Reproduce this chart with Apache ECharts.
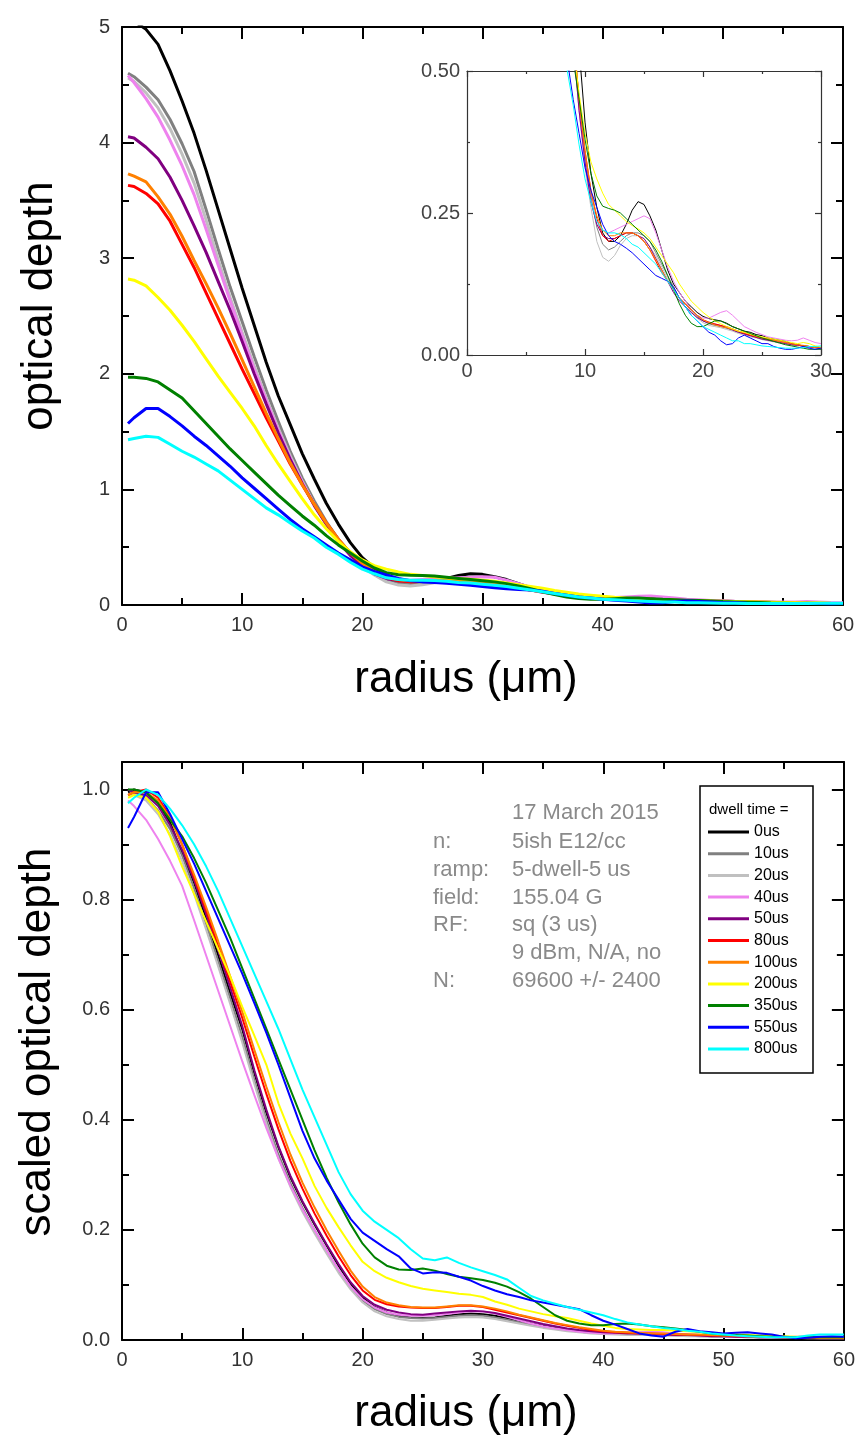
<!DOCTYPE html>
<html><head><meta charset="utf-8">
<script src="https://cdn.jsdelivr.net/npm/echarts@6/dist/echarts.min.js"></script>
<style>html,body{margin:0;padding:0;background:#fff}#c{width:858px;height:1454px}</style>
</head><body><div id="c"></div>
<script>
// ---------- data ----------
const radius = [0.5,1,2,3,4,5,6,7,8,9,10,11,12,13,14,15,16,17,18,19,20,21,22,23,24,25,26,27,28,29,30,31,32,33,34,35,36,37,38,39,40,41,42,43,44,45,46,47,48,49,50,51,52,53,54,55,56,57,58,59,60];
const seriesNames = ['0us','10us','20us','40us','50us','80us','100us','200us','350us','550us','800us'];
const seriesColors = ['#000000','#808080','#c0c0c0','#ee82ee','#800080','#ff0000','#ff8000','#ffff00','#008000','#0000ff','#00ffff'];

// optical depth (top panel)
const od_0us   = [5.06,5.05,4.98,4.85,4.62,4.36,4.08,3.76,3.42,3.08,2.74,2.42,2.1,1.81,1.56,1.31,1.09,0.88,0.7,0.54,0.41,0.32,0.26,0.215,0.2,0.2,0.21,0.23,0.255,0.27,0.265,0.245,0.22,0.185,0.15,0.125,0.11,0.095,0.085,0.075,0.068,0.064,0.062,0.06,0.056,0.05,0.046,0.042,0.04,0.036,0.034,0.03,0.028,0.026,0.024,0.02,0.018,0.016,0.015,0.014,0.012];
const od_10us  = [4.6,4.57,4.48,4.37,4.2,3.99,3.75,3.42,3.08,2.75,2.45,2.15,1.86,1.59,1.33,1.1,0.9,0.72,0.57,0.45,0.35,0.28,0.225,0.195,0.185,0.19,0.2,0.21,0.215,0.215,0.21,0.2,0.18,0.16,0.14,0.12,0.1,0.09,0.078,0.068,0.06,0.055,0.052,0.05,0.047,0.044,0.04,0.037,0.034,0.031,0.028,0.026,0.024,0.022,0.02,0.018,0.017,0.016,0.015,0.014,0.013];
const od_20us  = [4.56,4.53,4.43,4.3,4.12,3.9,3.65,3.33,2.99,2.66,2.36,2.07,1.79,1.53,1.29,1.07,0.87,0.7,0.55,0.43,0.33,0.26,0.2,0.172,0.165,0.175,0.193,0.205,0.21,0.21,0.2,0.19,0.175,0.155,0.135,0.115,0.1,0.085,0.075,0.065,0.057,0.052,0.05,0.048,0.045,0.042,0.038,0.035,0.032,0.03,0.027,0.025,0.023,0.021,0.019,0.018,0.017,0.016,0.015,0.013,0.012];
const od_40us  = [4.58,4.52,4.38,4.22,4.02,3.8,3.55,3.25,2.94,2.63,2.33,2.04,1.77,1.51,1.27,1.06,0.87,0.7,0.55,0.43,0.34,0.27,0.23,0.22,0.215,0.22,0.225,0.23,0.235,0.24,0.245,0.24,0.215,0.185,0.155,0.13,0.11,0.095,0.08,0.07,0.065,0.065,0.07,0.075,0.078,0.07,0.06,0.05,0.045,0.04,0.036,0.032,0.03,0.028,0.026,0.025,0.026,0.03,0.026,0.022,0.02];
const od_50us  = [4.05,4.04,3.96,3.86,3.7,3.5,3.28,3.05,2.8,2.55,2.28,2.0,1.74,1.49,1.26,1.05,0.86,0.7,0.55,0.43,0.34,0.27,0.23,0.21,0.205,0.205,0.21,0.215,0.215,0.21,0.205,0.19,0.17,0.15,0.13,0.11,0.095,0.085,0.075,0.066,0.06,0.056,0.054,0.052,0.048,0.044,0.04,0.037,0.034,0.031,0.028,0.026,0.024,0.022,0.02,0.018,0.017,0.016,0.014,0.013,0.012];
const od_80us  = [3.63,3.62,3.56,3.47,3.32,3.12,2.92,2.7,2.48,2.26,2.04,1.83,1.62,1.42,1.22,1.04,0.87,0.71,0.57,0.45,0.36,0.29,0.24,0.21,0.2,0.205,0.21,0.215,0.215,0.21,0.2,0.185,0.165,0.145,0.13,0.115,0.1,0.09,0.08,0.07,0.062,0.058,0.055,0.052,0.05,0.046,0.042,0.038,0.035,0.032,0.03,0.028,0.026,0.024,0.022,0.02,0.018,0.016,0.015,0.014,0.012];
const od_100us = [3.73,3.71,3.66,3.53,3.38,3.19,2.98,2.78,2.57,2.35,2.12,1.89,1.66,1.44,1.23,1.04,0.87,0.71,0.57,0.45,0.36,0.29,0.245,0.22,0.21,0.21,0.215,0.215,0.215,0.21,0.2,0.185,0.168,0.15,0.13,0.115,0.1,0.09,0.08,0.07,0.062,0.057,0.053,0.05,0.048,0.045,0.042,0.04,0.036,0.033,0.03,0.028,0.026,0.024,0.022,0.02,0.018,0.017,0.015,0.013,0.012];
const od_200us = [2.82,2.81,2.76,2.66,2.55,2.42,2.28,2.13,1.98,1.84,1.7,1.55,1.38,1.22,1.07,0.92,0.78,0.66,0.55,0.46,0.39,0.34,0.31,0.285,0.265,0.255,0.245,0.235,0.228,0.222,0.215,0.205,0.19,0.175,0.16,0.145,0.125,0.11,0.095,0.085,0.075,0.067,0.06,0.055,0.05,0.046,0.042,0.04,0.037,0.034,0.032,0.03,0.028,0.026,0.024,0.022,0.02,0.022,0.02,0.016,0.014];
const od_350us = [1.97,1.97,1.96,1.93,1.86,1.79,1.68,1.57,1.46,1.35,1.25,1.15,1.05,0.95,0.86,0.77,0.69,0.6,0.52,0.45,0.38,0.32,0.28,0.262,0.258,0.255,0.25,0.24,0.23,0.22,0.21,0.2,0.185,0.165,0.14,0.115,0.09,0.07,0.056,0.05,0.05,0.055,0.06,0.06,0.055,0.05,0.046,0.042,0.038,0.034,0.03,0.027,0.024,0.021,0.018,0.016,0.014,0.012,0.01,0.01,0.01];
const od_550us = [1.57,1.62,1.7,1.7,1.63,1.55,1.46,1.38,1.29,1.2,1.1,1.01,0.92,0.83,0.74,0.66,0.59,0.52,0.45,0.39,0.33,0.29,0.26,0.23,0.21,0.2,0.195,0.188,0.18,0.17,0.16,0.15,0.14,0.135,0.13,0.12,0.1,0.085,0.07,0.06,0.05,0.04,0.035,0.025,0.018,0.02,0.03,0.035,0.03,0.025,0.02,0.02,0.015,0.012,0.01,0.01,0.012,0.015,0.012,0.01,0.012];
const od_800us = [1.43,1.44,1.46,1.45,1.39,1.33,1.28,1.22,1.16,1.08,1.0,0.92,0.84,0.78,0.71,0.64,0.58,0.5,0.44,0.37,0.31,0.27,0.235,0.22,0.215,0.215,0.212,0.205,0.195,0.19,0.18,0.17,0.16,0.145,0.13,0.115,0.1,0.085,0.07,0.06,0.05,0.045,0.04,0.035,0.03,0.025,0.025,0.02,0.02,0.018,0.016,0.015,0.014,0.013,0.012,0.012,0.012,0.013,0.015,0.015,0.016];

// scaled optical depth (bottom panel)
const sc_0us   = [0.995,1.0,0.995,0.975,0.94,0.885,0.83,0.765,0.698,0.63,0.564,0.485,0.413,0.35,0.295,0.25,0.21,0.172,0.135,0.102,0.077,0.06,0.05,0.044,0.041,0.04,0.041,0.044,0.047,0.048,0.047,0.044,0.04,0.035,0.03,0.026,0.022,0.019,0.016,0.014,0.012,0.012,0.011,0.011,0.01,0.009,0.009,0.008,0.008,0.007,0.007,0.006,0.006,0.005,0.005,0.004,0.004,0.004,0.003,0.003,0.003];
const sc_10us  = [1.0,0.995,0.985,0.962,0.928,0.88,0.82,0.755,0.688,0.62,0.55,0.472,0.4,0.337,0.285,0.24,0.2,0.163,0.127,0.096,0.072,0.056,0.047,0.042,0.04,0.039,0.04,0.042,0.044,0.045,0.044,0.041,0.037,0.032,0.028,0.024,0.021,0.018,0.015,0.013,0.012,0.011,0.01,0.01,0.009,0.009,0.008,0.008,0.007,0.007,0.006,0.006,0.005,0.005,0.005,0.004,0.004,0.004,0.003,0.003,0.003];
const sc_20us  = [0.99,0.99,0.98,0.955,0.918,0.87,0.81,0.745,0.678,0.61,0.54,0.465,0.393,0.33,0.278,0.233,0.194,0.157,0.122,0.092,0.068,0.052,0.043,0.038,0.035,0.035,0.037,0.039,0.041,0.042,0.041,0.038,0.034,0.03,0.026,0.022,0.019,0.016,0.014,0.012,0.011,0.01,0.01,0.009,0.009,0.008,0.008,0.007,0.007,0.006,0.006,0.006,0.005,0.005,0.004,0.004,0.004,0.003,0.003,0.003,0.003];
const sc_40us  = [0.98,0.97,0.945,0.91,0.87,0.825,0.762,0.698,0.634,0.57,0.506,0.445,0.385,0.33,0.28,0.237,0.2,0.163,0.128,0.097,0.074,0.059,0.05,0.046,0.044,0.044,0.045,0.047,0.05,0.052,0.052,0.048,0.042,0.036,0.03,0.025,0.021,0.018,0.015,0.013,0.012,0.012,0.013,0.014,0.015,0.014,0.012,0.01,0.009,0.008,0.007,0.006,0.006,0.005,0.005,0.005,0.006,0.007,0.006,0.005,0.004];
const sc_50us  = [1.0,0.995,0.99,0.97,0.935,0.89,0.835,0.773,0.708,0.64,0.57,0.49,0.418,0.352,0.298,0.252,0.212,0.174,0.138,0.105,0.08,0.064,0.055,0.05,0.047,0.046,0.048,0.05,0.052,0.053,0.052,0.049,0.044,0.039,0.034,0.029,0.025,0.021,0.018,0.016,0.014,0.013,0.012,0.012,0.011,0.01,0.009,0.009,0.008,0.007,0.007,0.006,0.006,0.005,0.005,0.004,0.004,0.004,0.003,0.003,0.003];
const sc_80us  = [0.99,0.995,1.0,0.985,0.95,0.9,0.84,0.78,0.715,0.65,0.585,0.515,0.447,0.383,0.325,0.275,0.23,0.19,0.152,0.118,0.09,0.073,0.065,0.061,0.059,0.058,0.058,0.06,0.062,0.062,0.06,0.055,0.05,0.045,0.04,0.035,0.03,0.026,0.022,0.018,0.016,0.014,0.013,0.012,0.012,0.011,0.01,0.01,0.009,0.008,0.008,0.007,0.007,0.006,0.006,0.005,0.005,0.004,0.004,0.004,0.003];
const sc_100us = [0.99,0.995,0.995,0.98,0.948,0.9,0.845,0.786,0.724,0.66,0.596,0.527,0.46,0.396,0.337,0.286,0.241,0.2,0.162,0.126,0.097,0.078,0.068,0.063,0.06,0.059,0.059,0.061,0.063,0.063,0.061,0.057,0.052,0.046,0.041,0.036,0.031,0.027,0.023,0.02,0.017,0.015,0.014,0.013,0.012,0.012,0.011,0.01,0.01,0.009,0.008,0.008,0.007,0.006,0.006,0.005,0.005,0.005,0.004,0.004,0.004];
const sc_200us = [0.985,0.99,0.985,0.96,0.915,0.86,0.81,0.76,0.71,0.66,0.605,0.553,0.5,0.43,0.375,0.33,0.28,0.24,0.205,0.172,0.142,0.125,0.113,0.105,0.098,0.093,0.09,0.087,0.084,0.082,0.078,0.07,0.064,0.057,0.052,0.047,0.043,0.04,0.035,0.03,0.026,0.022,0.02,0.019,0.018,0.018,0.017,0.016,0.014,0.012,0.011,0.01,0.009,0.008,0.008,0.007,0.006,0.006,0.005,0.005,0.005];
const sc_350us = [1.0,1.0,0.995,0.975,0.945,0.915,0.875,0.83,0.78,0.73,0.675,0.62,0.565,0.51,0.455,0.4,0.345,0.295,0.25,0.21,0.175,0.15,0.135,0.128,0.127,0.13,0.126,0.12,0.115,0.112,0.109,0.104,0.097,0.087,0.075,0.06,0.045,0.035,0.03,0.027,0.027,0.029,0.03,0.028,0.025,0.023,0.021,0.018,0.015,0.012,0.01,0.009,0.008,0.007,0.006,0.006,0.005,0.005,0.005,0.005,0.005];
const sc_550us = [0.93,0.95,0.995,0.995,0.955,0.91,0.865,0.815,0.765,0.715,0.665,0.612,0.558,0.5,0.44,0.38,0.33,0.29,0.255,0.22,0.195,0.18,0.165,0.152,0.13,0.121,0.123,0.122,0.115,0.108,0.098,0.09,0.083,0.078,0.072,0.068,0.064,0.06,0.056,0.045,0.035,0.028,0.02,0.012,0.008,0.006,0.015,0.02,0.016,0.014,0.012,0.013,0.014,0.012,0.01,0.006,0.003,0.004,0.006,0.007,0.006];
const sc_800us = [0.975,0.985,1.0,0.99,0.965,0.935,0.9,0.86,0.815,0.765,0.715,0.665,0.615,0.565,0.51,0.455,0.405,0.355,0.305,0.265,0.235,0.215,0.2,0.185,0.165,0.148,0.145,0.15,0.14,0.132,0.125,0.118,0.11,0.095,0.08,0.072,0.066,0.06,0.055,0.05,0.045,0.038,0.032,0.028,0.025,0.022,0.02,0.017,0.015,0.012,0.01,0.008,0.007,0.006,0.005,0.005,0.005,0.008,0.01,0.01,0.01];

const odSeries = [od_0us,od_10us,od_20us,od_40us,od_50us,od_80us,od_100us,od_200us,od_350us,od_550us,od_800us];
const scSeries = [sc_0us,sc_10us,sc_20us,sc_40us,sc_50us,sc_80us,sc_100us,sc_200us,sc_350us,sc_550us,sc_800us];

const annotationLabels = ['n:','ramp:','field:','RF:','','N:'];
const annotationValues = ['5ish E12/cc','5-dwell-5 us','155.04 G','sq (3 us)','9 dBm, N/A, no','69600 +/- 2400'];
const annotationDate = '17 March 2015';

// ---------- chart ----------
const FONT = "'Liberation Sans', Arial, sans-serif";
const chart = echarts.init(document.getElementById('c'), null, {renderer: 'canvas'});

function pairs(ys) { return radius.map((x, i) => [x, ys[i]]); }

function axisStyle(main, showLabels, labelOpts) {
  const w = main ? 2 : 1.2;
  const col = main ? '#000' : '#333';
  return {
    axisLine: {show: true, onZero: false, lineStyle: {color: col, width: w}},
    axisTick: {show: true, inside: true, length: main ? 12 : 6, lineStyle: {color: col, width: w}},
    minorTick: {show: true, splitNumber: 2, length: main ? 7 : 3, lineStyle: {color: col, width: w}},
    splitLine: {show: false},
    minorSplitLine: {show: false},
    axisLabel: Object.assign({show: showLabels, color: main ? '#333' : '#444', fontSize: 20, fontFamily: FONT}, labelOpts || {})
  };
}

const grids = [
  {left: 122, top: 27, width: 721, height: 578},
  {left: 467, top: 71, width: 354, height: 284},
  {left: 122, top: 762, width: 722, height: 578}
];

const xAxes = [
  Object.assign({type: 'value', gridIndex: 0, position: 'bottom', min: 0, max: 60, interval: 10}, axisStyle(true, true, {margin: 10})),
  Object.assign({type: 'value', gridIndex: 0, position: 'top', min: 0, max: 60, interval: 10}, axisStyle(true, false)),
  Object.assign({type: 'value', gridIndex: 1, position: 'bottom', min: 0, max: 60, interval: 20}, axisStyle(false, true, {margin: 6, formatter: v => String(v / 2)})),
  Object.assign({type: 'value', gridIndex: 1, position: 'top', min: 0, max: 60, interval: 20}, axisStyle(false, false)),
  Object.assign({type: 'value', gridIndex: 2, position: 'bottom', min: 0, max: 60, interval: 10}, axisStyle(true, true, {margin: 10})),
  Object.assign({type: 'value', gridIndex: 2, position: 'top', min: 0, max: 60, interval: 10}, axisStyle(true, false))
];
const yAxes = [
  Object.assign({type: 'value', gridIndex: 0, position: 'left', min: 0, max: 5, interval: 1}, axisStyle(true, true, {margin: 12})),
  Object.assign({type: 'value', gridIndex: 0, position: 'right', min: 0, max: 5, interval: 1}, axisStyle(true, false)),
  Object.assign({type: 'value', gridIndex: 1, position: 'left', min: 0, max: 0.5, interval: 0.25}, axisStyle(false, true, {margin: 7, formatter: v => v.toFixed(2)})),
  Object.assign({type: 'value', gridIndex: 1, position: 'right', min: 0, max: 0.5, interval: 0.25}, axisStyle(false, false)),
  Object.assign({type: 'value', gridIndex: 2, position: 'left', min: 0, max: 1.05, interval: 0.2}, axisStyle(true, true, {margin: 12, formatter: v => (Math.abs(v * 5 - Math.round(v * 5)) < 1e-6 ? v.toFixed(1) : '')})),
  Object.assign({type: 'value', gridIndex: 2, position: 'right', min: 0, max: 1.05, interval: 0.2}, axisStyle(true, false))
];

const series = [];
seriesNames.forEach((name, i) => {
  const base = {type: 'line', name: name, showSymbol: false, symbol: 'none', silent: true, animation: false, clip: true,
    itemStyle: {color: seriesColors[i]}};
  series.push(Object.assign({}, base, {xAxisIndex: 0, yAxisIndex: 0, data: pairs(odSeries[i]), lineStyle: {color: seriesColors[i], width: 3}}));
  series.push(Object.assign({}, base, {xAxisIndex: 2, yAxisIndex: 2, data: pairs(odSeries[i]), lineStyle: {color: seriesColors[i], width: 1}}));
  series.push(Object.assign({}, base, {xAxisIndex: 4, yAxisIndex: 4, data: pairs(scSeries[i]), lineStyle: {color: seriesColors[i], width: 2}}));
});

const graphics = [
  // axis titles
  {type: 'text', x: 466, y: 680, style: {text: 'radius (\u03bcm)', font: '44px ' + FONT, fill: '#000', textAlign: 'center', textVerticalAlign: 'middle'}},
  {type: 'text', x: 466, y: 1414, style: {text: 'radius (\u03bcm)', font: '44px ' + FONT, fill: '#000', textAlign: 'center', textVerticalAlign: 'middle'}},
  {type: 'text', x: 40, y: 306, rotation: Math.PI / 2, style: {text: 'optical depth', font: '44px ' + FONT, fill: '#000', textAlign: 'center', textVerticalAlign: 'middle'}},
  {type: 'text', x: 38, y: 1042, rotation: Math.PI / 2, style: {text: 'scaled optical depth', font: '44px ' + FONT, fill: '#000', textAlign: 'center', textVerticalAlign: 'middle'}},
  // legend frame + title
  {type: 'rect', shape: {x: 700, y: 786, width: 113, height: 287}, style: {fill: '#fff', stroke: '#000', lineWidth: 1.5}, z: 1},
  {type: 'text', x: 709, y: 810, style: {text: 'dwell time =', font: '15px ' + FONT, fill: '#000', textAlign: 'left', textVerticalAlign: 'middle'}, z: 2},
  // annotation
  {type: 'text', x: 512, y: 813, style: {text: annotationDate, font: '22px ' + FONT, fill: '#8a8a8a', textAlign: 'left', textVerticalAlign: 'middle'}}
];
annotationLabels.forEach((lab, k) => {
  const y = 842 + k * 27.8;
  if (lab) graphics.push({type: 'text', x: 433, y: y, style: {text: lab, font: '22px ' + FONT, fill: '#8a8a8a', textAlign: 'left', textVerticalAlign: 'middle'}});
  graphics.push({type: 'text', x: 512, y: y, style: {text: annotationValues[k], font: '22px ' + FONT, fill: '#8a8a8a', textAlign: 'left', textVerticalAlign: 'middle'}});
});

chart.setOption({
  backgroundColor: '#fff',
  animation: false,
  grid: grids,
  xAxis: xAxes,
  yAxis: yAxes,
  series: series,
  legend: {
    data: seriesNames, orient: 'vertical', left: 708, top: 822, padding: 0,
    icon: 'rect', itemWidth: 41, itemHeight: 3, itemGap: 1.7, selectedMode: false, z: 3,
    textStyle: {fontSize: 16, fontFamily: FONT, color: '#000', lineHeight: 20}
  },
  graphic: graphics
});
</script>
</body></html>
